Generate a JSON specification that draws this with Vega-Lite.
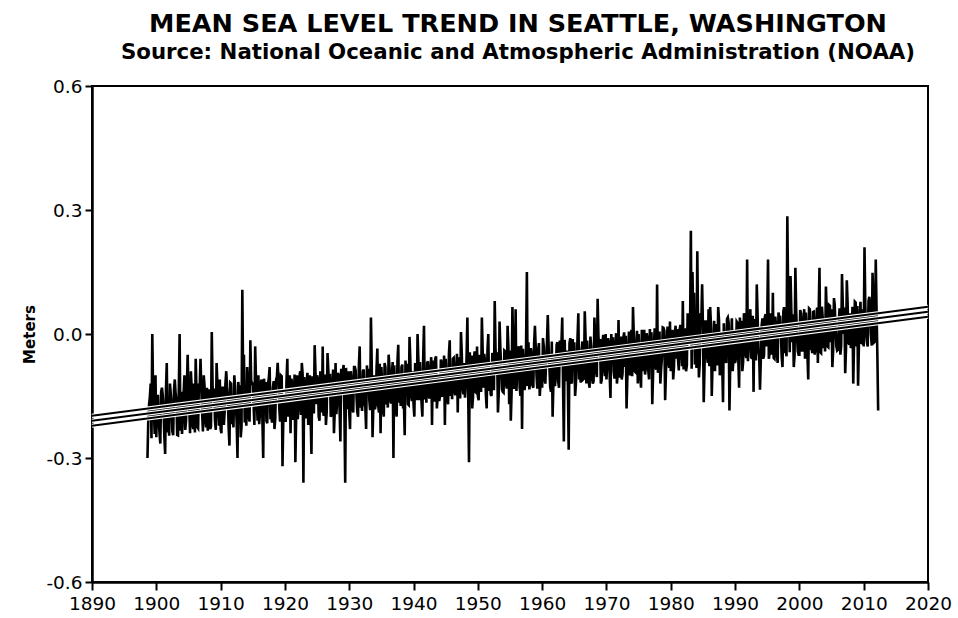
{
  "$schema": "https://vega.github.io/schema/vega-lite/v6.json",
  "width": 836,
  "height": 496,
  "autosize": "none",
  "padding": {"left": 92, "top": 86, "right": 30, "bottom": 36},
  "background": "white",
  "title": {
    "text": "MEAN SEA LEVEL TREND IN SEATTLE, WASHINGTON",
    "subtitle": "Source: National Oceanic and Atmospheric Administration (NOAA)",
    "font": "DejaVu Sans",
    "fontSize": 25.5,
    "fontWeight": "bold",
    "color": "black",
    "subtitleFont": "DejaVu Sans",
    "subtitleFontSize": 21.3,
    "subtitleFontWeight": "bold",
    "subtitleColor": "black",
    "subtitlePadding": 4,
    "anchor": "middle",
    "offset": 14,
    "dx": 8
  },
  "config": {
    "view": {"stroke": "black", "strokeWidth": 2},
    "axis": {
      "grid": false,
      "domainColor": "black",
      "domainWidth": 2.5,
      "tickColor": "black",
      "tickWidth": 2,
      "tickSize": 8,
      "labelFont": "DejaVu Sans",
      "labelFontSize": 18.5,
      "labelColor": "black",
      "titleFont": "DejaVu Sans",
      "titleColor": "black"
    }
  },
  "datasets": {
    "trend": [
      {"s": "a", "t": 1890, "v": -0.198}, {"s": "a", "t": 2020, "v": 0.066},
      {"s": "b", "t": 1890, "v": -0.210}, {"s": "b", "t": 2020, "v": 0.054},
      {"s": "c", "t": 1890, "v": -0.222}, {"s": "c", "t": 2020, "v": 0.042}
    ],
    "msl": [
      {"t":1898.625,"v":-0.30},{"t":1898.75,"v":-0.21},{"t":1898.875,"v":-0.17},
      {"t":1899.0,"v":-0.152},{"t":1899.125,"v":-0.12},{"t":1899.25,"v":-0.252},{"t":1899.375,"v":0.0},{"t":1899.5,"v":-0.142},{"t":1899.625,"v":-0.19},{"t":1899.75,"v":-0.242},{"t":1899.875,"v":-0.10},
      {"t":1900.0,"v":-0.250},{"t":1900.125,"v":-0.15},{"t":1900.25,"v":-0.150},{"t":1900.375,"v":-0.21},{"t":1900.5,"v":-0.240},{"t":1900.625,"v":-0.265},{"t":1900.75,"v":-0.140},{"t":1900.875,"v":-0.13},
      {"t":1901.0,"v":-0.148},{"t":1901.125,"v":-0.18},{"t":1901.25,"v":-0.248},{"t":1901.375,"v":-0.29},{"t":1901.5,"v":-0.138},{"t":1901.625,"v":-0.07},{"t":1901.75,"v":-0.238},{"t":1901.875,"v":-0.20},
      {"t":1902.0,"v":-0.246},{"t":1902.125,"v":-0.12},{"t":1902.25,"v":-0.146},{"t":1902.375,"v":-0.17},{"t":1902.5,"v":-0.236},{"t":1902.625,"v":-0.245},{"t":1902.75,"v":-0.136},{"t":1902.875,"v":-0.11},
      {"t":1903.0,"v":-0.144},{"t":1903.125,"v":-0.16},{"t":1903.25,"v":-0.244},{"t":1903.375,"v":-0.245},{"t":1903.5,"v":-0.134},{"t":1903.625,"v":0.0},{"t":1903.75,"v":-0.234},{"t":1903.875,"v":-0.14},
      {"t":1904.0,"v":-0.242},{"t":1904.125,"v":-0.20},{"t":1904.25,"v":-0.142},{"t":1904.375,"v":-0.10},{"t":1904.5,"v":-0.232},{"t":1904.625,"v":-0.21},{"t":1904.75,"v":-0.132},{"t":1904.875,"v":-0.05},
      {"t":1905.0,"v":-0.140},{"t":1905.125,"v":-0.18},{"t":1905.25,"v":-0.240},{"t":1905.375,"v":-0.09},{"t":1905.5,"v":-0.130},{"t":1905.625,"v":-0.22},{"t":1905.75,"v":-0.230},{"t":1905.875,"v":-0.12},
      {"t":1906.0,"v":-0.238},{"t":1906.125,"v":-0.06},{"t":1906.25,"v":-0.138},{"t":1906.375,"v":-0.225},{"t":1906.5,"v":-0.228},{"t":1906.625,"v":-0.12},{"t":1906.75,"v":-0.128},{"t":1906.875,"v":-0.06},
      {"t":1907.0,"v":-0.136},{"t":1907.125,"v":-0.19},{"t":1907.25,"v":-0.236},{"t":1907.375,"v":-0.10},{"t":1907.5,"v":-0.126},{"t":1907.625,"v":-0.21},{"t":1907.75,"v":-0.226},{"t":1907.875,"v":-0.13},
      {"t":1908.0,"v":-0.234},{"t":1908.125,"v":-0.17},{"t":1908.25,"v":-0.134},{"t":1908.375,"v":-0.23},{"t":1908.5,"v":-0.224},{"t":1908.625,"v":0.005},{"t":1908.75,"v":-0.124},{"t":1908.875,"v":-0.16},
      {"t":1909.0,"v":-0.132},{"t":1909.125,"v":-0.21},{"t":1909.25,"v":-0.232},{"t":1909.375,"v":-0.07},{"t":1909.5,"v":-0.122},{"t":1909.625,"v":-0.18},{"t":1909.75,"v":-0.222},{"t":1909.875,"v":-0.11},
      {"t":1910.0,"v":-0.230},{"t":1910.125,"v":-0.24},{"t":1910.25,"v":-0.130},{"t":1910.375,"v":-0.13},{"t":1910.5,"v":-0.220},{"t":1910.625,"v":-0.19},{"t":1910.75,"v":-0.120},{"t":1910.875,"v":-0.09},
      {"t":1911.0,"v":-0.128},{"t":1911.125,"v":-0.15},{"t":1911.25,"v":-0.228},{"t":1911.375,"v":-0.27},{"t":1911.5,"v":-0.118},{"t":1911.625,"v":-0.12},{"t":1911.75,"v":-0.218},{"t":1911.875,"v":-0.19},
      {"t":1912.0,"v":-0.226},{"t":1912.125,"v":-0.10},{"t":1912.25,"v":-0.126},{"t":1912.375,"v":-0.17},{"t":1912.5,"v":-0.216},{"t":1912.625,"v":-0.30},{"t":1912.75,"v":-0.116},{"t":1912.875,"v":-0.14},
      {"t":1913.0,"v":-0.124},{"t":1913.125,"v":-0.25},{"t":1913.25,"v":-0.224},{"t":1913.375,"v":0.107},{"t":1913.5,"v":-0.114},{"t":1913.625,"v":-0.05},{"t":1913.75,"v":-0.214},{"t":1913.875,"v":-0.19},
      {"t":1914.0,"v":-0.222},{"t":1914.125,"v":-0.08},{"t":1914.25,"v":-0.122},{"t":1914.375,"v":-0.20},{"t":1914.5,"v":-0.212},{"t":1914.625,"v":-0.015},{"t":1914.75,"v":-0.112},{"t":1914.875,"v":-0.12},
      {"t":1915.0,"v":-0.120},{"t":1915.125,"v":-0.17},{"t":1915.25,"v":-0.220},{"t":1915.375,"v":-0.03},{"t":1915.5,"v":-0.110},{"t":1915.625,"v":-0.16},{"t":1915.75,"v":-0.210},{"t":1915.875,"v":-0.10},
      {"t":1916.0,"v":-0.218},{"t":1916.125,"v":-0.19},{"t":1916.25,"v":-0.118},{"t":1916.375,"v":-0.11},{"t":1916.5,"v":-0.208},{"t":1916.625,"v":-0.30},{"t":1916.75,"v":-0.108},{"t":1916.875,"v":-0.14},
      {"t":1917.0,"v":-0.116},{"t":1917.125,"v":-0.21},{"t":1917.25,"v":-0.216},{"t":1917.375,"v":-0.12},{"t":1917.5,"v":-0.106},{"t":1917.625,"v":-0.08},{"t":1917.75,"v":-0.206},{"t":1917.875,"v":-0.20},
      {"t":1918.0,"v":-0.214},{"t":1918.125,"v":-0.13},{"t":1918.25,"v":-0.114},{"t":1918.375,"v":-0.23},{"t":1918.5,"v":-0.204},{"t":1918.625,"v":-0.11},{"t":1918.75,"v":-0.104},{"t":1918.875,"v":-0.07},
      {"t":1919.0,"v":-0.112},{"t":1919.125,"v":-0.18},{"t":1919.25,"v":-0.212},{"t":1919.375,"v":-0.10},{"t":1919.5,"v":-0.102},{"t":1919.625,"v":-0.32},{"t":1919.75,"v":-0.202},{"t":1919.875,"v":-0.15},
      {"t":1920.0,"v":-0.210},{"t":1920.125,"v":-0.21},{"t":1920.25,"v":-0.110},{"t":1920.375,"v":-0.06},{"t":1920.5,"v":-0.200},{"t":1920.625,"v":-0.17},{"t":1920.75,"v":-0.100},{"t":1920.875,"v":-0.24},
      {"t":1921.0,"v":-0.108},{"t":1921.125,"v":-0.12},{"t":1921.25,"v":-0.208},{"t":1921.375,"v":-0.19},{"t":1921.5,"v":-0.098},{"t":1921.625,"v":-0.31},{"t":1921.75,"v":-0.198},{"t":1921.875,"v":-0.10},
      {"t":1922.0,"v":-0.206},{"t":1922.125,"v":-0.17},{"t":1922.25,"v":-0.106},{"t":1922.375,"v":-0.09},{"t":1922.5,"v":-0.196},{"t":1922.625,"v":-0.07},{"t":1922.75,"v":-0.096},{"t":1922.875,"v":-0.36},
      {"t":1923.0,"v":-0.104},{"t":1923.125,"v":-0.18},{"t":1923.25,"v":-0.204},{"t":1923.375,"v":-0.12},{"t":1923.5,"v":-0.094},{"t":1923.625,"v":-0.22},{"t":1923.75,"v":-0.194},{"t":1923.875,"v":-0.10},
      {"t":1924.0,"v":-0.202},{"t":1924.125,"v":-0.29},{"t":1924.25,"v":-0.102},{"t":1924.375,"v":-0.14},{"t":1924.5,"v":-0.192},{"t":1924.625,"v":-0.027},{"t":1924.75,"v":-0.092},{"t":1924.875,"v":-0.17},
      {"t":1925.0,"v":-0.100},{"t":1925.125,"v":-0.11},{"t":1925.25,"v":-0.200},{"t":1925.375,"v":-0.21},{"t":1925.5,"v":-0.090},{"t":1925.625,"v":-0.12},{"t":1925.75,"v":-0.190},{"t":1925.875,"v":-0.03},
      {"t":1926.0,"v":-0.198},{"t":1926.125,"v":-0.18},{"t":1926.25,"v":-0.098},{"t":1926.375,"v":-0.22},{"t":1926.5,"v":-0.188},{"t":1926.625,"v":-0.046},{"t":1926.75,"v":-0.088},{"t":1926.875,"v":-0.15},
      {"t":1927.0,"v":-0.096},{"t":1927.125,"v":-0.20},{"t":1927.25,"v":-0.196},{"t":1927.375,"v":-0.12},{"t":1927.5,"v":-0.086},{"t":1927.625,"v":-0.24},{"t":1927.75,"v":-0.186},{"t":1927.875,"v":-0.07},
      {"t":1928.0,"v":-0.194},{"t":1928.125,"v":-0.16},{"t":1928.25,"v":-0.094},{"t":1928.375,"v":-0.10},{"t":1928.5,"v":-0.184},{"t":1928.625,"v":-0.26},{"t":1928.75,"v":-0.084},{"t":1928.875,"v":-0.13},
      {"t":1929.0,"v":-0.092},{"t":1929.125,"v":-0.075},{"t":1929.25,"v":-0.192},{"t":1929.375,"v":-0.36},{"t":1929.5,"v":-0.082},{"t":1929.625,"v":-0.14},{"t":1929.75,"v":-0.182},{"t":1929.875,"v":-0.09},
      {"t":1930.0,"v":-0.190},{"t":1930.125,"v":-0.23},{"t":1930.25,"v":-0.090},{"t":1930.375,"v":-0.11},{"t":1930.5,"v":-0.180},{"t":1930.625,"v":-0.19},{"t":1930.75,"v":-0.080},{"t":1930.875,"v":-0.08},
      {"t":1931.0,"v":-0.088},{"t":1931.125,"v":-0.15},{"t":1931.25,"v":-0.188},{"t":1931.375,"v":-0.20},{"t":1931.5,"v":-0.078},{"t":1931.625,"v":-0.03},{"t":1931.75,"v":-0.178},{"t":1931.875,"v":-0.16},
      {"t":1932.0,"v":-0.186},{"t":1932.125,"v":-0.09},{"t":1932.25,"v":-0.086},{"t":1932.375,"v":-0.17},{"t":1932.5,"v":-0.176},{"t":1932.625,"v":-0.23},{"t":1932.75,"v":-0.076},{"t":1932.875,"v":-0.11},
      {"t":1933.0,"v":-0.084},{"t":1933.125,"v":-0.16},{"t":1933.25,"v":-0.184},{"t":1933.375,"v":0.04},{"t":1933.5,"v":-0.074},{"t":1933.625,"v":-0.25},{"t":1933.75,"v":-0.174},{"t":1933.875,"v":-0.10},
      {"t":1934.0,"v":-0.182},{"t":1934.125,"v":-0.17},{"t":1934.25,"v":-0.082},{"t":1934.375,"v":-0.035},{"t":1934.5,"v":-0.172},{"t":1934.625,"v":-0.19},{"t":1934.75,"v":-0.072},{"t":1934.875,"v":-0.24},
      {"t":1935.0,"v":-0.080},{"t":1935.125,"v":-0.12},{"t":1935.25,"v":-0.180},{"t":1935.375,"v":-0.20},{"t":1935.5,"v":-0.070},{"t":1935.625,"v":-0.08},{"t":1935.75,"v":-0.170},{"t":1935.875,"v":-0.15},
      {"t":1936.0,"v":-0.178},{"t":1936.125,"v":-0.05},{"t":1936.25,"v":-0.078},{"t":1936.375,"v":-0.16},{"t":1936.5,"v":-0.168},{"t":1936.625,"v":-0.10},{"t":1936.75,"v":-0.068},{"t":1936.875,"v":-0.30},
      {"t":1937.0,"v":-0.076},{"t":1937.125,"v":-0.14},{"t":1937.25,"v":-0.176},{"t":1937.375,"v":-0.20},{"t":1937.5,"v":-0.066},{"t":1937.625,"v":-0.026},{"t":1937.75,"v":-0.166},{"t":1937.875,"v":-0.13},
      {"t":1938.0,"v":-0.174},{"t":1938.125,"v":-0.08},{"t":1938.25,"v":-0.074},{"t":1938.375,"v":-0.18},{"t":1938.5,"v":-0.164},{"t":1938.625,"v":-0.245},{"t":1938.75,"v":-0.064},{"t":1938.875,"v":-0.11},
      {"t":1939.0,"v":-0.072},{"t":1939.125,"v":-0.17},{"t":1939.25,"v":-0.172},{"t":1939.375,"v":-0.007},{"t":1939.5,"v":-0.062},{"t":1939.625,"v":-0.15},{"t":1939.75,"v":-0.162},{"t":1939.875,"v":-0.09},
      {"t":1940.0,"v":-0.170},{"t":1940.125,"v":-0.20},{"t":1940.25,"v":-0.070},{"t":1940.375,"v":-0.10},{"t":1940.5,"v":-0.160},{"t":1940.625,"v":0.0},{"t":1940.75,"v":-0.060},{"t":1940.875,"v":-0.16},
      {"t":1941.0,"v":-0.068},{"t":1941.125,"v":-0.12},{"t":1941.25,"v":-0.168},{"t":1941.375,"v":-0.20},{"t":1941.5,"v":-0.058},{"t":1941.625,"v":0.02},{"t":1941.75,"v":-0.158},{"t":1941.875,"v":-0.13},
      {"t":1942.0,"v":-0.166},{"t":1942.125,"v":-0.07},{"t":1942.25,"v":-0.066},{"t":1942.375,"v":-0.15},{"t":1942.5,"v":-0.156},{"t":1942.625,"v":-0.09},{"t":1942.75,"v":-0.056},{"t":1942.875,"v":-0.22},
      {"t":1943.0,"v":-0.064},{"t":1943.125,"v":-0.12},{"t":1943.25,"v":-0.164},{"t":1943.375,"v":-0.06},{"t":1943.5,"v":-0.054},{"t":1943.625,"v":-0.18},{"t":1943.75,"v":-0.154},{"t":1943.875,"v":-0.10},
      {"t":1944.0,"v":-0.162},{"t":1944.125,"v":-0.15},{"t":1944.25,"v":-0.062},{"t":1944.375,"v":-0.07},{"t":1944.5,"v":-0.152},{"t":1944.625,"v":-0.13},{"t":1944.75,"v":-0.052},{"t":1944.875,"v":-0.22},
      {"t":1945.0,"v":-0.060},{"t":1945.125,"v":-0.11},{"t":1945.25,"v":-0.160},{"t":1945.375,"v":-0.17},{"t":1945.5,"v":-0.050},{"t":1945.625,"v":-0.015},{"t":1945.75,"v":-0.150},{"t":1945.875,"v":-0.12},
      {"t":1946.0,"v":-0.158},{"t":1946.125,"v":-0.06},{"t":1946.25,"v":-0.058},{"t":1946.375,"v":-0.14},{"t":1946.5,"v":-0.148},{"t":1946.625,"v":-0.09},{"t":1946.75,"v":-0.048},{"t":1946.875,"v":-0.19},
      {"t":1947.0,"v":-0.056},{"t":1947.125,"v":-0.10},{"t":1947.25,"v":-0.156},{"t":1947.375,"v":0.005},{"t":1947.5,"v":-0.046},{"t":1947.625,"v":-0.13},{"t":1947.75,"v":-0.146},{"t":1947.875,"v":-0.07},
      {"t":1948.0,"v":-0.154},{"t":1948.125,"v":-0.12},{"t":1948.25,"v":-0.054},{"t":1948.375,"v":0.04},{"t":1948.5,"v":-0.144},{"t":1948.625,"v":-0.31},{"t":1948.75,"v":-0.044},{"t":1948.875,"v":-0.11},
      {"t":1949.0,"v":-0.052},{"t":1949.125,"v":-0.18},{"t":1949.25,"v":-0.152},{"t":1949.375,"v":-0.06},{"t":1949.5,"v":-0.042},{"t":1949.625,"v":-0.14},{"t":1949.75,"v":-0.142},{"t":1949.875,"v":-0.03},
      {"t":1950.0,"v":-0.150},{"t":1950.125,"v":-0.16},{"t":1950.25,"v":-0.050},{"t":1950.375,"v":-0.09},{"t":1950.5,"v":-0.140},{"t":1950.625,"v":0.04},{"t":1950.75,"v":-0.040},{"t":1950.875,"v":-0.13},
      {"t":1951.0,"v":-0.048},{"t":1951.125,"v":-0.07},{"t":1951.25,"v":-0.148},{"t":1951.375,"v":-0.18},{"t":1951.5,"v":-0.038},{"t":1951.625,"v":0.0},{"t":1951.75,"v":-0.138},{"t":1951.875,"v":-0.10},
      {"t":1952.0,"v":-0.146},{"t":1952.125,"v":-0.15},{"t":1952.25,"v":-0.046},{"t":1952.375,"v":-0.05},{"t":1952.5,"v":-0.136},{"t":1952.625,"v":0.08},{"t":1952.75,"v":-0.036},{"t":1952.875,"v":-0.09},
      {"t":1953.0,"v":-0.044},{"t":1953.125,"v":-0.19},{"t":1953.25,"v":-0.144},{"t":1953.375,"v":0.03},{"t":1953.5,"v":-0.034},{"t":1953.625,"v":-0.08},{"t":1953.75,"v":-0.134},{"t":1953.875,"v":-0.14},
      {"t":1954.0,"v":-0.142},{"t":1954.125,"v":-0.04},{"t":1954.25,"v":-0.042},{"t":1954.375,"v":-0.12},{"t":1954.5,"v":-0.132},{"t":1954.625,"v":0.02},{"t":1954.75,"v":-0.032},{"t":1954.875,"v":-0.17},
      {"t":1955.0,"v":-0.040},{"t":1955.125,"v":-0.21},{"t":1955.25,"v":-0.140},{"t":1955.375,"v":0.065},{"t":1955.5,"v":-0.030},{"t":1955.625,"v":-0.13},{"t":1955.75,"v":-0.130},{"t":1955.875,"v":0.06},
      {"t":1956.0,"v":-0.138},{"t":1956.125,"v":-0.09},{"t":1956.25,"v":-0.038},{"t":1956.375,"v":-0.03},{"t":1956.5,"v":-0.128},{"t":1956.625,"v":-0.15},{"t":1956.75,"v":-0.028},{"t":1956.875,"v":-0.23},
      {"t":1957.0,"v":-0.036},{"t":1957.125,"v":-0.07},{"t":1957.25,"v":-0.136},{"t":1957.375,"v":-0.12},{"t":1957.5,"v":-0.026},{"t":1957.625,"v":0.15},{"t":1957.75,"v":-0.126},{"t":1957.875,"v":-0.02},
      {"t":1958.0,"v":-0.134},{"t":1958.125,"v":-0.12},{"t":1958.25,"v":-0.034},{"t":1958.375,"v":-0.05},{"t":1958.5,"v":-0.124},{"t":1958.625,"v":-0.13},{"t":1958.75,"v":-0.024},{"t":1958.875,"v":0.02},
      {"t":1959.0,"v":-0.032},{"t":1959.125,"v":-0.10},{"t":1959.25,"v":-0.132},{"t":1959.375,"v":-0.04},{"t":1959.5,"v":-0.022},{"t":1959.625,"v":-0.15},{"t":1959.75,"v":-0.122},{"t":1959.875,"v":-0.06},
      {"t":1960.0,"v":-0.130},{"t":1960.125,"v":-0.01},{"t":1960.25,"v":-0.030},{"t":1960.375,"v":-0.11},{"t":1960.5,"v":-0.120},{"t":1960.625,"v":-0.06},{"t":1960.75,"v":-0.020},{"t":1960.875,"v":0.046},
      {"t":1961.0,"v":-0.028},{"t":1961.125,"v":-0.08},{"t":1961.25,"v":-0.128},{"t":1961.375,"v":-0.14},{"t":1961.5,"v":-0.018},{"t":1961.625,"v":-0.20},{"t":1961.75,"v":-0.118},{"t":1961.875,"v":-0.05},
      {"t":1962.0,"v":-0.126},{"t":1962.125,"v":-0.10},{"t":1962.25,"v":-0.026},{"t":1962.375,"v":-0.02},{"t":1962.5,"v":-0.116},{"t":1962.625,"v":-0.13},{"t":1962.75,"v":-0.016},{"t":1962.875,"v":-0.07},
      {"t":1963.0,"v":-0.024},{"t":1963.125,"v":0.04},{"t":1963.25,"v":-0.124},{"t":1963.375,"v":-0.26},{"t":1963.5,"v":-0.014},{"t":1963.625,"v":-0.09},{"t":1963.75,"v":-0.114},{"t":1963.875,"v":-0.04},
      {"t":1964.0,"v":-0.122},{"t":1964.125,"v":-0.28},{"t":1964.25,"v":-0.022},{"t":1964.375,"v":-0.01},{"t":1964.5,"v":-0.112},{"t":1964.625,"v":-0.12},{"t":1964.75,"v":-0.012},{"t":1964.875,"v":-0.06},
      {"t":1965.0,"v":-0.020},{"t":1965.125,"v":-0.15},{"t":1965.25,"v":-0.120},{"t":1965.375,"v":-0.07},{"t":1965.5,"v":-0.010},{"t":1965.625,"v":0.05},{"t":1965.75,"v":-0.110},{"t":1965.875,"v":-0.09},
      {"t":1966.0,"v":-0.118},{"t":1966.125,"v":-0.04},{"t":1966.25,"v":-0.018},{"t":1966.375,"v":-0.11},{"t":1966.5,"v":-0.108},{"t":1966.625,"v":0.055},{"t":1966.75,"v":-0.008},{"t":1966.875,"v":-0.12},
      {"t":1967.0,"v":-0.016},{"t":1967.125,"v":-0.06},{"t":1967.25,"v":-0.116},{"t":1967.375,"v":-0.13},{"t":1967.5,"v":-0.006},{"t":1967.625,"v":-0.03},{"t":1967.75,"v":-0.106},{"t":1967.875,"v":-0.12},
      {"t":1968.0,"v":-0.114},{"t":1968.125,"v":0.04},{"t":1968.25,"v":-0.014},{"t":1968.375,"v":-0.09},{"t":1968.5,"v":-0.104},{"t":1968.625,"v":0.085},{"t":1968.75,"v":-0.004},{"t":1968.875,"v":-0.05},
      {"t":1969.0,"v":-0.012},{"t":1969.125,"v":-0.12},{"t":1969.25,"v":-0.112},{"t":1969.375,"v":-0.02},{"t":1969.5,"v":-0.002},{"t":1969.625,"v":-0.08},{"t":1969.75,"v":-0.102},{"t":1969.875,"v":0.0},
      {"t":1970.0,"v":-0.110},{"t":1970.125,"v":-0.07},{"t":1970.25,"v":-0.010},{"t":1970.375,"v":-0.02},{"t":1970.5,"v":-0.100},{"t":1970.625,"v":-0.155},{"t":1970.75,"v":0.000},{"t":1970.875,"v":-0.04},
      {"t":1971.0,"v":-0.008},{"t":1971.125,"v":-0.09},{"t":1971.25,"v":-0.108},{"t":1971.375,"v":-0.03},{"t":1971.5,"v":0.002},{"t":1971.625,"v":-0.12},{"t":1971.75,"v":-0.098},{"t":1971.875,"v":0.034},
      {"t":1972.0,"v":-0.106},{"t":1972.125,"v":-0.06},{"t":1972.25,"v":-0.006},{"t":1972.375,"v":-0.11},{"t":1972.5,"v":-0.096},{"t":1972.625,"v":-0.01},{"t":1972.75,"v":0.004},{"t":1972.875,"v":-0.08},
      {"t":1973.0,"v":-0.004},{"t":1973.125,"v":-0.18},{"t":1973.25,"v":-0.104},{"t":1973.375,"v":-0.04},{"t":1973.5,"v":0.006},{"t":1973.625,"v":-0.10},{"t":1973.75,"v":-0.094},{"t":1973.875,"v":0.01},
      {"t":1974.0,"v":-0.102},{"t":1974.125,"v":0.065},{"t":1974.25,"v":-0.002},{"t":1974.375,"v":-0.09},{"t":1974.5,"v":-0.092},{"t":1974.625,"v":-0.03},{"t":1974.75,"v":0.008},{"t":1974.875,"v":-0.12},
      {"t":1975.0,"v":0.000},{"t":1975.125,"v":-0.05},{"t":1975.25,"v":-0.100},{"t":1975.375,"v":-0.13},{"t":1975.5,"v":0.010},{"t":1975.625,"v":-0.04},{"t":1975.75,"v":-0.090},{"t":1975.875,"v":0.01},
      {"t":1976.0,"v":-0.098},{"t":1976.125,"v":-0.08},{"t":1976.25,"v":0.002},{"t":1976.375,"v":-0.01},{"t":1976.5,"v":-0.088},{"t":1976.625,"v":-0.11},{"t":1976.75,"v":0.012},{"t":1976.875,"v":-0.04},
      {"t":1977.0,"v":0.004},{"t":1977.125,"v":-0.17},{"t":1977.25,"v":-0.096},{"t":1977.375,"v":-0.03},{"t":1977.5,"v":0.014},{"t":1977.625,"v":-0.08},{"t":1977.75,"v":-0.086},{"t":1977.875,"v":0.12},
      {"t":1978.0,"v":-0.094},{"t":1978.125,"v":-0.04},{"t":1978.25,"v":0.006},{"t":1978.375,"v":-0.12},{"t":1978.5,"v":-0.084},{"t":1978.625,"v":-0.06},{"t":1978.75,"v":0.016},{"t":1978.875,"v":0.015},
      {"t":1979.0,"v":0.008},{"t":1979.125,"v":-0.16},{"t":1979.25,"v":-0.092},{"t":1979.375,"v":-0.02},{"t":1979.5,"v":0.018},{"t":1979.625,"v":-0.07},{"t":1979.75,"v":-0.082},{"t":1979.875,"v":0.03},
      {"t":1980.0,"v":-0.090},{"t":1980.125,"v":-0.05},{"t":1980.25,"v":0.010},{"t":1980.375,"v":-0.11},{"t":1980.5,"v":-0.080},{"t":1980.625,"v":0.0},{"t":1980.75,"v":0.020},{"t":1980.875,"v":-0.06},
      {"t":1981.0,"v":0.012},{"t":1981.125,"v":-0.06},{"t":1981.25,"v":-0.088},{"t":1981.375,"v":0.01},{"t":1981.5,"v":0.022},{"t":1981.625,"v":-0.04},{"t":1981.75,"v":-0.078},{"t":1981.875,"v":0.08},
      {"t":1982.0,"v":-0.086},{"t":1982.125,"v":-0.03},{"t":1982.25,"v":0.014},{"t":1982.375,"v":-0.09},{"t":1982.5,"v":-0.076},{"t":1982.625,"v":0.05},{"t":1982.75,"v":0.024},{"t":1982.875,"v":-0.02},
      {"t":1983.0,"v":0.016},{"t":1983.125,"v":0.25},{"t":1983.25,"v":-0.084},{"t":1983.375,"v":0.15},{"t":1983.5,"v":0.026},{"t":1983.625,"v":0.10},{"t":1983.75,"v":-0.074},{"t":1983.875,"v":-0.02},
      {"t":1984.0,"v":-0.082},{"t":1984.125,"v":0.20},{"t":1984.25,"v":0.018},{"t":1984.375,"v":-0.105},{"t":1984.5,"v":-0.072},{"t":1984.625,"v":0.05},{"t":1984.75,"v":0.028},{"t":1984.875,"v":0.12},
      {"t":1985.0,"v":0.020},{"t":1985.125,"v":-0.165},{"t":1985.25,"v":-0.080},{"t":1985.375,"v":0.03},{"t":1985.5,"v":0.030},{"t":1985.625,"v":-0.05},{"t":1985.75,"v":-0.070},{"t":1985.875,"v":0.06},
      {"t":1986.0,"v":-0.078},{"t":1986.125,"v":0.065},{"t":1986.25,"v":0.022},{"t":1986.375,"v":-0.15},{"t":1986.5,"v":-0.068},{"t":1986.625,"v":-0.02},{"t":1986.75,"v":0.032},{"t":1986.875,"v":-0.09},
      {"t":1987.0,"v":0.024},{"t":1987.125,"v":-0.04},{"t":1987.25,"v":-0.076},{"t":1987.375,"v":0.065},{"t":1987.5,"v":0.034},{"t":1987.625,"v":-0.10},{"t":1987.75,"v":-0.066},{"t":1987.875,"v":0.0},
      {"t":1988.0,"v":-0.074},{"t":1988.125,"v":-0.165},{"t":1988.25,"v":0.026},{"t":1988.375,"v":-0.03},{"t":1988.5,"v":-0.064},{"t":1988.625,"v":-0.07},{"t":1988.75,"v":0.036},{"t":1988.875,"v":0.04},
      {"t":1989.0,"v":0.028},{"t":1989.125,"v":-0.185},{"t":1989.25,"v":-0.072},{"t":1989.375,"v":-0.02},{"t":1989.5,"v":0.038},{"t":1989.625,"v":-0.09},{"t":1989.75,"v":-0.062},{"t":1989.875,"v":0.01},
      {"t":1990.0,"v":-0.070},{"t":1990.125,"v":-0.06},{"t":1990.25,"v":0.030},{"t":1990.375,"v":0.027},{"t":1990.5,"v":-0.060},{"t":1990.625,"v":-0.13},{"t":1990.75,"v":0.040},{"t":1990.875,"v":-0.03},
      {"t":1991.0,"v":0.032},{"t":1991.125,"v":-0.09},{"t":1991.25,"v":-0.068},{"t":1991.375,"v":0.05},{"t":1991.5,"v":0.042},{"t":1991.625,"v":-0.05},{"t":1991.75,"v":-0.058},{"t":1991.875,"v":0.18},
      {"t":1992.0,"v":-0.066},{"t":1992.125,"v":-0.02},{"t":1992.25,"v":0.034},{"t":1992.375,"v":0.06},{"t":1992.5,"v":-0.056},{"t":1992.625,"v":-0.06},{"t":1992.75,"v":0.044},{"t":1992.875,"v":-0.14},
      {"t":1993.0,"v":0.036},{"t":1993.125,"v":0.01},{"t":1993.25,"v":-0.064},{"t":1993.375,"v":0.12},{"t":1993.5,"v":0.046},{"t":1993.625,"v":-0.04},{"t":1993.75,"v":-0.054},{"t":1993.875,"v":-0.135},
      {"t":1994.0,"v":-0.062},{"t":1994.125,"v":0.02},{"t":1994.25,"v":0.038},{"t":1994.375,"v":-0.06},{"t":1994.5,"v":-0.052},{"t":1994.625,"v":0.04},{"t":1994.75,"v":0.048},{"t":1994.875,"v":-0.03},
      {"t":1995.0,"v":0.040},{"t":1995.125,"v":0.18},{"t":1995.25,"v":-0.060},{"t":1995.375,"v":-0.046},{"t":1995.5,"v":0.050},{"t":1995.625,"v":0.03},{"t":1995.75,"v":-0.050},{"t":1995.875,"v":0.10},
      {"t":1996.0,"v":-0.058},{"t":1996.125,"v":-0.06},{"t":1996.25,"v":0.042},{"t":1996.375,"v":0.02},{"t":1996.5,"v":-0.048},{"t":1996.625,"v":-0.07},{"t":1996.75,"v":0.052},{"t":1996.875,"v":0.04},
      {"t":1997.0,"v":0.044},{"t":1997.125,"v":0.0},{"t":1997.25,"v":-0.056},{"t":1997.375,"v":-0.08},{"t":1997.5,"v":0.054},{"t":1997.625,"v":0.065},{"t":1997.75,"v":-0.046},{"t":1997.875,"v":-0.03},
      {"t":1998.0,"v":-0.054},{"t":1998.125,"v":0.285},{"t":1998.25,"v":0.10},{"t":1998.375,"v":0.05},{"t":1998.5,"v":-0.044},{"t":1998.625,"v":0.14},{"t":1998.75,"v":0.056},{"t":1998.875,"v":-0.02},
      {"t":1999.0,"v":0.048},{"t":1999.125,"v":-0.08},{"t":1999.25,"v":-0.052},{"t":1999.375,"v":0.16},{"t":1999.5,"v":0.058},{"t":1999.625,"v":0.0},{"t":1999.75,"v":-0.042},{"t":1999.875,"v":-0.05},
      {"t":2000.0,"v":-0.050},{"t":2000.125,"v":0.058},{"t":2000.25,"v":0.050},{"t":2000.375,"v":-0.04},{"t":2000.5,"v":-0.040},{"t":2000.625,"v":0.03},{"t":2000.75,"v":0.060},{"t":2000.875,"v":-0.06},
      {"t":2001.0,"v":0.052},{"t":2001.125,"v":0.01},{"t":2001.25,"v":-0.048},{"t":2001.375,"v":-0.11},{"t":2001.5,"v":0.062},{"t":2001.625,"v":0.06},{"t":2001.75,"v":-0.038},{"t":2001.875,"v":-0.03},
      {"t":2002.0,"v":-0.046},{"t":2002.125,"v":0.053},{"t":2002.25,"v":0.054},{"t":2002.375,"v":-0.05},{"t":2002.5,"v":-0.036},{"t":2002.625,"v":0.02},{"t":2002.75,"v":0.064},{"t":2002.875,"v":-0.07},
      {"t":2003.0,"v":0.056},{"t":2003.125,"v":0.16},{"t":2003.25,"v":-0.044},{"t":2003.375,"v":-0.046},{"t":2003.5,"v":0.066},{"t":2003.625,"v":0.04},{"t":2003.75,"v":-0.034},{"t":2003.875,"v":0.0},
      {"t":2004.0,"v":-0.042},{"t":2004.125,"v":0.115},{"t":2004.25,"v":0.058},{"t":2004.375,"v":-0.03},{"t":2004.5,"v":-0.032},{"t":2004.625,"v":0.07},{"t":2004.75,"v":0.068},{"t":2004.875,"v":-0.02},
      {"t":2005.0,"v":0.060},{"t":2005.125,"v":-0.08},{"t":2005.25,"v":-0.040},{"t":2005.375,"v":0.087},{"t":2005.5,"v":0.070},{"t":2005.625,"v":0.01},{"t":2005.75,"v":-0.030},{"t":2005.875,"v":-0.04},
      {"t":2006.0,"v":-0.038},{"t":2006.125,"v":0.03},{"t":2006.25,"v":0.062},{"t":2006.375,"v":-0.05},{"t":2006.5,"v":-0.028},{"t":2006.625,"v":0.145},{"t":2006.75,"v":0.072},{"t":2006.875,"v":0.0},
      {"t":2007.0,"v":0.064},{"t":2007.125,"v":-0.095},{"t":2007.25,"v":-0.036},{"t":2007.375,"v":0.13},{"t":2007.5,"v":0.074},{"t":2007.625,"v":-0.02},{"t":2007.75,"v":-0.026},{"t":2007.875,"v":0.05},
      {"t":2008.0,"v":-0.034},{"t":2008.125,"v":-0.03},{"t":2008.25,"v":0.066},{"t":2008.375,"v":-0.12},{"t":2008.5,"v":-0.024},{"t":2008.625,"v":0.078},{"t":2008.75,"v":0.076},{"t":2008.875,"v":-0.03},
      {"t":2009.0,"v":0.068},{"t":2009.125,"v":-0.125},{"t":2009.25,"v":-0.032},{"t":2009.375,"v":0.04},{"t":2009.5,"v":0.078},{"t":2009.625,"v":-0.02},{"t":2009.75,"v":-0.022},{"t":2009.875,"v":0.06},
      {"t":2010.0,"v":-0.030},{"t":2010.125,"v":0.21},{"t":2010.25,"v":0.070},{"t":2010.375,"v":0.0},{"t":2010.5,"v":-0.020},{"t":2010.625,"v":-0.03},{"t":2010.75,"v":0.080},{"t":2010.875,"v":0.09},
      {"t":2011.0,"v":0.072},{"t":2011.125,"v":0.0},{"t":2011.25,"v":-0.028},{"t":2011.375,"v":0.148},{"t":2011.5,"v":0.082},{"t":2011.625,"v":-0.02},{"t":2011.75,"v":-0.018},{"t":2011.875,"v":0.18},
      {"t":2012.0,"v":0.06},{"t":2012.125,"v":-0.05},{"t":2012.25,"v":-0.185}
    ]
  },
  "encoding": {
    "x": {
      "field": "t",
      "type": "quantitative",
      "scale": {"domain": [1890, 2020], "nice": false, "zero": false},
      "axis": {
        "title": null,
        "values": [1890, 1900, 1910, 1920, 1930, 1940, 1950, 1960, 1970, 1980, 1990, 2000, 2010, 2020],
        "format": "d",
        "labelFlush": false,
        "labelOverlap": false,
        "labelPadding": 4
      }
    },
    "y": {
      "field": "v",
      "type": "quantitative",
      "scale": {"domain": [-0.6, 0.6], "nice": false, "zero": false},
      "axis": {
        "title": "Meters",
        "titleFontSize": 15,
        "titleFontWeight": "bold",
        "titlePadding": 8,
        "values": [-0.6, -0.3, 0, 0.3, 0.6],
        "labelExpr": "replace(format(datum.value, '.1f'), '\u2212', '-')",
        "labelFlush": false,
        "labelOverlap": false,
        "labelPadding": 3,
        "tickSize": 7
      }
    }
  },
  "layer": [
    {
      "data": {"name": "msl"},
      "mark": {"type": "line", "color": "black", "strokeWidth": 2.6, "strokeJoin": "miter"}
    },
    {
      "data": {"name": "trend"},
      "mark": {"type": "line", "color": "white", "strokeWidth": 4.2},
      "encoding": {"detail": {"field": "s", "type": "nominal"}}
    },
    {
      "data": {"name": "trend"},
      "mark": {"type": "line", "color": "black", "strokeWidth": 2},
      "encoding": {"detail": {"field": "s", "type": "nominal"}}
    }
  ]
}
